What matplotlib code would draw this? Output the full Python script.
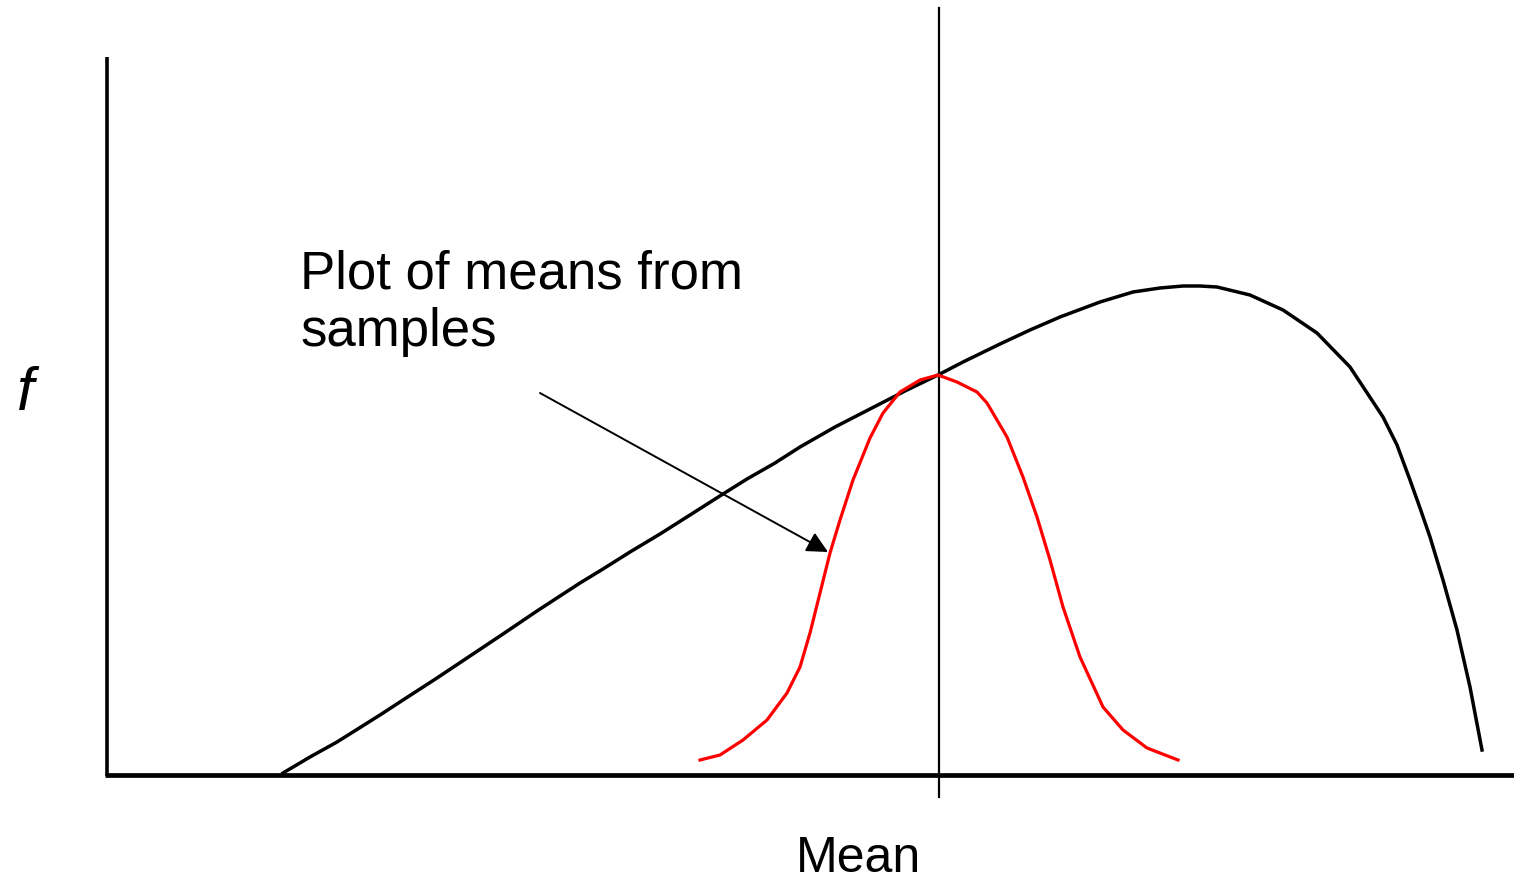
import matplotlib.pyplot as plt
import numpy as np

plt.rcParams['font.family'] = ['Liberation Sans', 'DejaVu Sans']

# skewed population curve (image-like units, y down)
pop_x = [283, 310, 337, 380, 403, 437, 470, 503, 537, 560, 580, 603, 630,
         660, 690, 723, 747, 775, 800, 835, 870, 905, 938, 963, 1000, 1030,
         1060, 1100, 1133, 1160, 1183, 1200, 1217, 1250, 1283, 1317, 1350,
         1383, 1397, 1410, 1420, 1430, 1443, 1457, 1470, 1482]
pop_y = [773, 757, 742, 715, 700, 678, 656, 634, 611, 596, 583, 569, 552,
         534, 515, 494, 479, 463, 447, 427, 409, 391, 375, 362, 344, 330,
         317, 302, 292, 288, 286, 286, 287, 295, 310, 333, 367,
         417, 445, 480, 508, 537, 580, 630, 687, 750]

# distribution of sample means
mean_x = [700, 720, 743, 767, 787, 800, 810, 820, 830, 840, 853, 870, 883,
          900, 920, 938, 957, 977, 987, 1007, 1023, 1037, 1050, 1063, 1080,
          1103, 1123, 1147, 1178]
mean_y = [760, 755, 740, 720, 693, 667, 633, 593, 553, 520, 480, 438, 413,
          392, 380, 375, 382, 392, 403, 437, 477, 517, 560, 607, 657,
          707, 730, 748, 760]

mean_pos = 939
annotation = "Plot of means from\nsamples"

fig = plt.figure(figsize=(15.14, 8.8), dpi=100)
ax = fig.add_axes([0, 0, 1, 1])
ax.set_xlim(0, 1514)
ax.set_ylim(880, 0)
ax.axis('off')

# axes drawn by hand like the sketch
ax.plot([107, 107], [57, 776], color='black', lw=2.6, solid_capstyle='butt')
ax.plot([105, 1514], [775, 775], color='black', lw=3.4, solid_capstyle='butt')
ax.plot([mean_pos, mean_pos], [8, 797], color='black', lw=1.6)

ax.plot(pop_x, pop_y, color='black', lw=2.5)
ax.plot(mean_x, mean_y, color='red', lw=2.3)

ax.annotate('', xy=(828, 552), xytext=(540, 393),
            arrowprops=dict(arrowstyle='-|>', color='black', lw=1.4,
                            mutation_scale=32, shrinkA=0, shrinkB=0))

ax.text(300, 346, annotation, fontsize=38, ha='left', va='baseline',
        linespacing=1.18)
ax.text(17, 410, 'f', fontsize=44, style='italic', ha='left', va='baseline')
ax.text(858, 872, 'Mean', fontsize=36, ha='center', va='baseline')

fig.savefig('out.png', dpi=100)
